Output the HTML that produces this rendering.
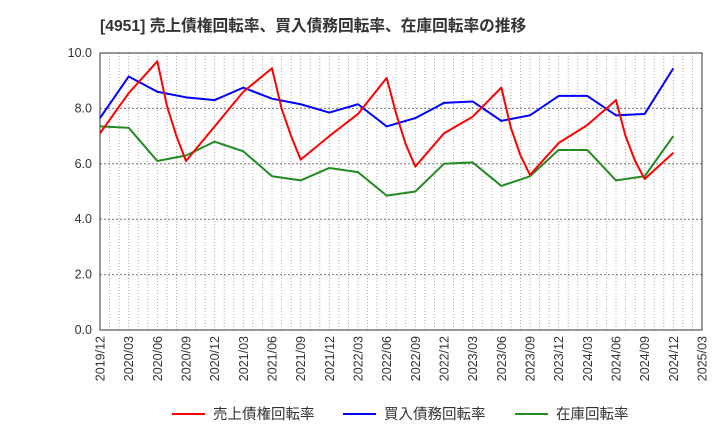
<!DOCTYPE html>
<html><head><meta charset="utf-8"><style>
body{margin:0;background:#fff;}
svg text{font-family:"Liberation Sans","Noto Sans CJK JP",sans-serif;}
</style></head><body>
<svg id="c" width="720" height="440" xmlns="http://www.w3.org/2000/svg">
<text x="100" y="31" font-size="15.7" font-weight="bold" fill="#333">[4951]  売上債権回転率、買入債務回転率、在庫回転率の推移</text>
</svg>
<script>
const xTickLabels=["2019/12","2020/03","2020/06","2020/09","2020/12","2021/03","2021/06","2021/09","2021/12","2022/03","2022/06","2022/09","2022/12","2023/03","2023/06","2023/09","2023/12","2024/03","2024/06","2024/09","2024/12","2025/03"];
const yTicks=[0,2,4,6,8,10];
const redMonths=[0,3,6,7,8,9,12,15,18,19,20,21,24,27,30,31,32,33,36,39,42,43,44,45,48,51,54,55,56,57,60];
const redValues=[7.1,8.55,9.7,8.1,7.0,6.1,7.35,8.6,9.45,8.0,7.0,6.15,7.0,7.8,9.1,7.8,6.7,5.9,7.1,7.7,8.75,7.3,6.3,5.6,6.75,7.4,8.3,7.0,6.1,5.45,6.4];
const blueValues=[7.65,9.15,8.6,8.4,8.3,8.75,8.35,8.15,7.85,8.15,7.35,7.65,8.2,8.25,7.55,7.75,8.45,8.45,7.75,7.8,9.45];
const greenValues=[7.35,7.3,6.1,6.3,6.8,6.45,5.55,5.4,5.85,5.7,4.85,5.0,6.0,6.05,5.2,5.55,6.5,6.5,5.4,5.55,7.0];
const L=100,R=702,T=53,B=330;
const xm=m=>L+m*(R-L)/63;
const y=v=>B-v*(B-T)/10;
const svg=document.getElementById('c');
const NS='http://www.w3.org/2000/svg';
function mk(t,a){const e=document.createElementNS(NS,t);for(const k in a)e.setAttribute(k,a[k]);svg.appendChild(e);return e;}
for(let m=1;m<63;m++){const g=mk('line',{x1:xm(m),x2:xm(m),y1:T,y2:B,stroke:'#aaa','stroke-width':1,'stroke-dasharray':'1,2'});

}
yTicks.forEach(v=>{
 if(v>0&&v<10){const g=mk('line',{x1:L,x2:R,y1:y(v),y2:y(v),stroke:'#777','stroke-width':1,'stroke-dasharray':'2,2'});
 
 }
 const t=mk('text',{x:L-8,y:y(v)+4,'font-size':12.5,'text-anchor':'end',fill:'#333'});t.textContent=v.toFixed(1);
 
 
});
xTickLabels.forEach((s,i)=>{
 const x=xm(i*3);
 const t=mk('text',{x:x+4.5,y:B+6,'font-size':12.5,'text-anchor':'end',fill:'#333',transform:`rotate(-90 ${x+4.5} ${B+6})`});t.textContent=s;
 
 
});
const fr=mk('rect',{x:L,y:T,width:R-L,height:B-T,fill:'none',stroke:'#333','stroke-width':1});


function line(ms,vs,col,name){
 const p=mk('polyline',{points:vs.map((v,i)=>xm(ms[i])+','+y(v)).join(' '),fill:'none',stroke:col,'stroke-width':2,'stroke-linejoin':'round'});
 
 
}
const q=blueValues.map((_,i)=>i*3);
line(q,greenValues,'#228b22','series-inventory-turnover');
line(q,blueValues,'#0000ff','series-payables-turnover');
line(redMonths,redValues,'#ff0000','series-receivables-turnover');
const leg=[["売上債権回転率","#ff0000",172],["買入債務回転率","#0000ff",343],["在庫回転率","#228b22",515]];
leg.forEach(([s,c,x])=>{
 const l=mk('line',{x1:x,x2:x+33,y1:414,y2:414,stroke:c,'stroke-width':2});
 
 
 const t=mk('text',{x:x+41,y:419,'font-size':14.5,fill:'#333'});t.textContent=s;
 
 
});
</script>
</body></html>
